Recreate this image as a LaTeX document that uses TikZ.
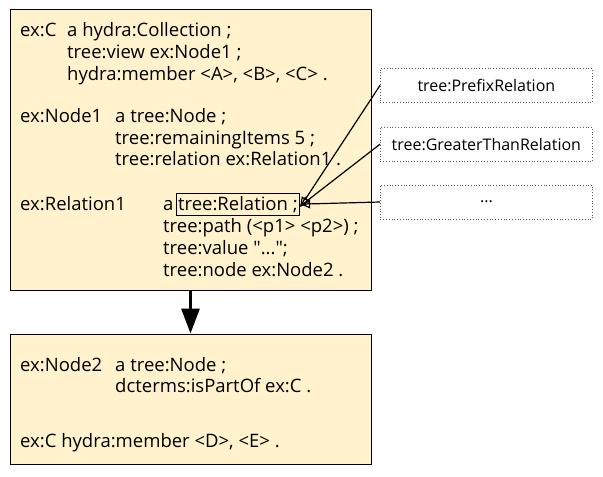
\documentclass[tikz,border=0pt]{standalone}
\usepackage{fontspec}
\setmainfont{Open Sans}
\usepackage{xcolor}
\usepackage{tikz}
\usetikzlibrary{arrows.meta, positioning}
\definecolor{notefill}{RGB}{255,242,204}
\definecolor{dotgray}{RGB}{90,90,90}

\begin{document}
\begin{tikzpicture}[
    x=1pt, y=-1pt,
    font=\fontsize{18.5pt}{21.7pt}\selectfont,
    pagebox/.style={
        rectangle,
        draw=black,
        fill=notefill,
        line width=1pt,
        anchor=north west,
        minimum width=361pt,
        minimum height=281pt
    },
    relbox/.style={
        rectangle,
        draw=black,
        line width=0.8pt,
        inner xsep=2pt,
        inner ysep=3pt
    },
    kindbox/.style={
        rectangle,
        draw=dotgray,
        dotted,
        line width=0.8pt,
        minimum width=212pt,
        minimum height=34pt,
        font=\fontsize{16pt}{19pt}\selectfont
    },
    turtle/.style={anchor=base west, inner sep=0pt},
    bigarrow/.style={-{Triangle[length=25pt, width=18pt]}, line width=3pt},
    kindarrow/.style={-{Triangle[open, length=10pt, width=9pt]}, line width=1.2pt}
]
\useasboundingbox (0,0) rectangle (603,477);

\node[pagebox] (page1) at (9.5,8.5) {};
\node[pagebox, minimum height=130pt, below=43pt of page1] (page2) {};

\node[kindbox, anchor=north west] (prefix) at (380,68) {tree:PrefixRelation};
\node[kindbox, below=24pt of prefix] (greater) {tree:GreaterThanRelation};
\node[kindbox, below=23pt of greater] (more) {...};

% first page
\node[turtle] (cS) at (20,36) {ex:C};
\node[turtle] (cType) at (67,36) {a hydra:Collection ;};
\node[turtle] (cView) at (67,58) {tree:view ex:Node1 ;};
\node[turtle] (cMember) at (67,80) {hydra:member <A>, <B>, <C> .};

\node[turtle] (n1S) at (20,122.5) {ex:Node1};
\node[turtle] (n1Type) at (115,122.5) {a tree:Node ;};
\node[turtle] (n1Items) at (115,144) {tree:remainingItems 5 ;};
\node[turtle] (n1Rel) at (115,165.5) {tree:relation ex:Relation1 .};

\node[turtle] (r1S) at (20,210) {ex:Relation1};
\node[turtle] (r1A) at (163,210) {a};
\node[relbox, base right=2pt of r1A] (rel) {tree:Relation ;};
\node[turtle] (r1Path) at (163,232) {tree:path (<p1> <p2>) ;};
\node[turtle] (r1Value) at (163,254) {tree:value \textquotedbl...\textquotedbl;};
\node[turtle] (r1Node) at (163,276) {tree:node ex:Node2 .};

% second page
\node[turtle] (n2S) at (20,371) {ex:Node2};
\node[turtle] (n2Type) at (115,371) {a tree:Node ;};
\node[turtle] (n2Part) at (115,392.5) {dcterms:isPartOf ex:C .};
\node[turtle] (c2Member) at (20,447) {ex:C hydra:member <D>, <E> .};

\draw[bigarrow] (page1) -- (page2);
\draw[kindarrow] (prefix.west) -- ([yshift=-3pt]rel.east);
\draw[kindarrow] (greater.west) -- ([yshift=-2pt]rel.east);
\draw[kindarrow] (more.west) -- (rel.east);

\end{tikzpicture}
\end{document}
